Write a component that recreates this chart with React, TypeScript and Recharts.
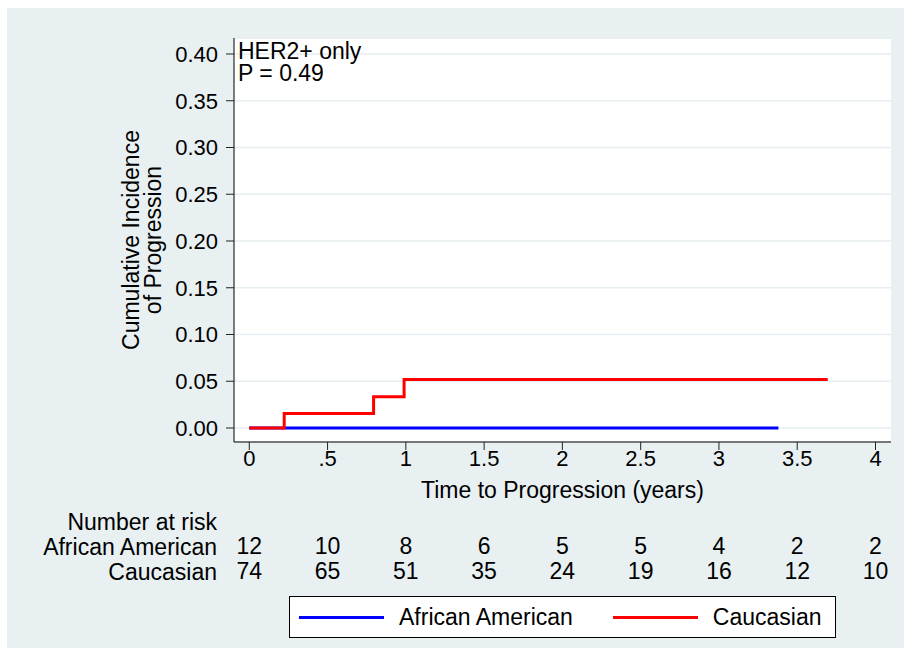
import React from 'react';
import { LineChart, Line, XAxis, YAxis, CartesianGrid, Legend } from 'recharts';

// Cumulative incidence step points (time in years, incidence)
const africanTimes = [0, 3.38];
const africanIncidence = [0, 0];
const caucasianTimes = [0, 0.223, 0.794, 0.989, 3.695];
const caucasianIncidence = [0, 0.0154, 0.0335, 0.052, 0.052];

// Number at risk table
const riskTimes = [0, 0.5, 1, 1.5, 2, 2.5, 3, 3.5, 4];
const africanAtRisk = [12, 10, 8, 6, 5, 5, 4, 2, 2];
const caucasianAtRisk = [74, 65, 51, 35, 24, 19, 16, 12, 10];

const yTicks = [0, 0.05, 0.1, 0.15, 0.2, 0.25, 0.3, 0.35, 0.4];

const FONT = '"Liberation Sans", Arial, Helvetica, sans-serif';
const BG = '#e8f0f2';
const TXT = 23;

const africanData = africanTimes.map((x, i) => ({ x, y: africanIncidence[i] }));
const caucasianData = caucasianTimes.map((x, i) => ({ x, y: caucasianIncidence[i] }));

const xDomain: [number, number] = [-0.0976, 4.099];
const yDomain: [number, number] = [-0.01496, 0.4171];

const fmtX = (v: number) => (v === 0.5 ? '.5' : String(v));

function riskTick(counts: number[]) {
  return (props: any) => {
    const idx = riskTimes.indexOf(props.payload.value);
    return (
      <text x={props.x} y={props.y + 20} textAnchor="middle" fontSize={TXT} fontFamily={FONT} fill="#000">
        {idx >= 0 ? counts[idx] : ''}
      </text>
    );
  };
}

function YTitle(props: any) {
  const vb = props.viewBox || { y: 38, height: 404 };
  const cy = vb.y + vb.height / 2;
  return (
    <g fontSize={TXT} fontFamily={FONT} fill="#000">
      <text x={139} y={cy} textAnchor="middle" transform={`rotate(-90 139 ${cy})`}>
        Cumulative Incidence
      </text>
      <text x={161} y={cy} textAnchor="middle" transform={`rotate(-90 161 ${cy})`}>
        of Progression
      </text>
    </g>
  );
}

function LegendBox(props: any) {
  const payload = props.payload || [];
  return (
    <div
      style={{
        width: 547,
        height: 42,
        boxSizing: 'border-box',
        border: '1px solid #000',
        background: '#fff',
        display: 'flex',
        alignItems: 'center',
        paddingLeft: 9,
        fontFamily: FONT,
        fontSize: TXT,
        color: '#000',
      }}
    >
      {payload.map((entry: any, i: number) => (
        <div key={i} style={{ display: 'flex', alignItems: 'center', marginRight: i === 0 ? 40 : 0 }}>
          <div style={{ width: 85, height: 3, background: entry.color, marginRight: 15 }} />
          <span>{entry.value}</span>
        </div>
      ))}
    </div>
  );
}

export default function App() {
  return (
    <div style={{ position: 'absolute', left: 0, top: 0, width: 904, height: 648 }}>
      <div style={{ position: 'absolute', left: 7, top: 8, width: 897, height: 640, background: BG }} />
      <div style={{ position: 'absolute', left: 0, top: 0 }}>
        <LineChart width={904} height={648} margin={{ top: 38, right: 13, left: 114, bottom: 64 }}>
          <CartesianGrid vertical={false} stroke="#e6eef1" strokeWidth={1.5} fill="#fff" fillOpacity={1} />
          <XAxis
            dataKey="x"
            type="number"
            domain={xDomain}
            ticks={riskTimes}
            allowDataOverflow
            height={67}
            tickSize={8}
            tickMargin={0}
            tickFormatter={fmtX}
            tick={{ fontSize: 22, fill: '#000', fontFamily: FONT }}
            axisLine={{ stroke: '#000' }}
            tickLine={{ stroke: '#222' }}
            label={{
              value: 'Time to Progression (years)',
              position: 'insideBottom',
              offset: 11,
              fontSize: TXT,
              fill: '#000',
              fontFamily: FONT,
            }}
          />
          <XAxis
            xAxisId="header"
            dataKey="x"
            type="number"
            domain={xDomain}
            ticks={[]}
            allowDataOverflow
            height={25}
            axisLine={false}
            tickLine={false}
            tick={false}
            label={{ value: 'Number at risk', position: 'left', offset: 17, fontSize: TXT, fill: '#000', fontFamily: FONT }}
          />
          <XAxis
            xAxisId="riskAA"
            dataKey="x"
            type="number"
            domain={xDomain}
            ticks={riskTimes}
            allowDataOverflow
            height={25}
            axisLine={false}
            tickLine={false}
            tickSize={0}
            tickMargin={0}
            tick={riskTick(africanAtRisk)}
            label={{ value: 'African American', position: 'left', offset: 17, fontSize: TXT, fill: '#000', fontFamily: FONT }}
          />
          <XAxis
            xAxisId="riskC"
            dataKey="x"
            type="number"
            domain={xDomain}
            ticks={riskTimes}
            allowDataOverflow
            height={25}
            axisLine={false}
            tickLine={false}
            tickSize={0}
            tickMargin={0}
            tick={riskTick(caucasianAtRisk)}
            label={{ value: 'Caucasian', position: 'left', offset: 17, fontSize: TXT, fill: '#000', fontFamily: FONT }}
          />
          <YAxis
            type="number"
            domain={yDomain}
            ticks={yTicks}
            allowDataOverflow
            width={120}
            tickSize={8}
            tickMargin={8}
            tickFormatter={(v: number) => v.toFixed(2)}
            tick={{ fontSize: 22, fill: '#000', fontFamily: FONT }}
            axisLine={{ stroke: '#000' }}
            tickLine={{ stroke: '#222' }}
            label={YTitle}
          />
          <Legend
            verticalAlign="middle"
            align="center"
            layout="horizontal"
            content={LegendBox}
            wrapperStyle={{ left: 289, top: 596, width: 547, height: 42 }}
          />
          <Line
            data={africanData}
            dataKey="y"
            name="African American"
            type="stepAfter"
            stroke="#0000ff"
            strokeWidth={3}
            dot={false}
            activeDot={false}
            isAnimationActive={false}
          />
          <Line
            data={caucasianData}
            dataKey="y"
            name="Caucasian"
            type="stepAfter"
            stroke="#ff0000"
            strokeWidth={3}
            dot={false}
            activeDot={false}
            isAnimationActive={false}
          />
        </LineChart>
      </div>
      <div
        style={{
          position: 'absolute',
          left: 238,
          top: 40,
          fontFamily: FONT,
          fontSize: TXT,
          lineHeight: '22px',
          color: '#000',
        }}
      >
        <div>HER2+ only</div>
        <div>P = 0.49</div>
      </div>
    </div>
  );
}
